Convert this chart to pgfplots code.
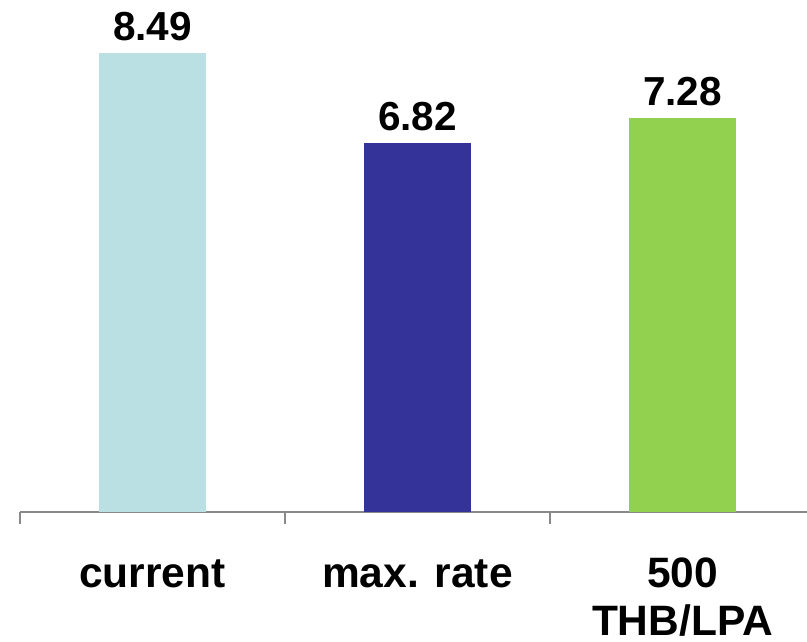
\documentclass[border=0pt]{standalone}
\usepackage{pgfplots}
\pgfplotsset{compat=1.18}
\usepackage{fontspec}
\setmainfont{Liberation Sans}
\definecolor{c1}{HTML}{BBE0E3}
\definecolor{c2}{HTML}{333399}
\definecolor{c3}{HTML}{92D050}
\definecolor{axgray}{HTML}{898989}
\begin{document}
\begin{tikzpicture}
\begin{axis}[
 at={(0,0)}, anchor=south west,
 scale only axis, width=787pt, height=512pt,
 xmin=-0.5, xmax=2.4698, ymin=0, ymax=9.469,
 axis x line*=bottom, axis y line=none,
 x axis line style={draw=axgray, line width=1.5pt, -},
 xtick={0,1,2},
 xticklabels={{\strut current},{\strut max. rate},{\strut 500\\THB/LPA}},
 major tick length=0pt,
 xticklabel style={font=\fontsize{42.5}{48.5}\selectfont\bfseries, align=center, anchor=north, yshift=-38pt},
 extra x ticks={-0.5,0.5,1.5}, extra x tick labels={},
 extra x tick style={major tick length=12pt, tick align=outside, tick style={draw=axgray, line width=1.5pt}},
 ytick=\empty,
 ybar, bar width=107pt, bar shift=0pt,
 point meta=explicit symbolic,
 nodes near coords,
 nodes near coords style={font=\fontsize{40.5}{48}\selectfont\bfseries, text=black, yshift=8.7pt},
 clip=false,
]
\addplot[fill=c1, draw=none] coordinates {(0,8.49) [8.49]};
\addplot[fill=c2, draw=none] coordinates {(1,6.82) [6.82]};
\addplot[fill=c3, draw=none] coordinates {(2,7.28) [7.28]};
\end{axis}
\pgfresetboundingbox
\path[use as bounding box] (-20pt,-129pt) rectangle (787pt,512pt);
\end{tikzpicture}
\end{document}
